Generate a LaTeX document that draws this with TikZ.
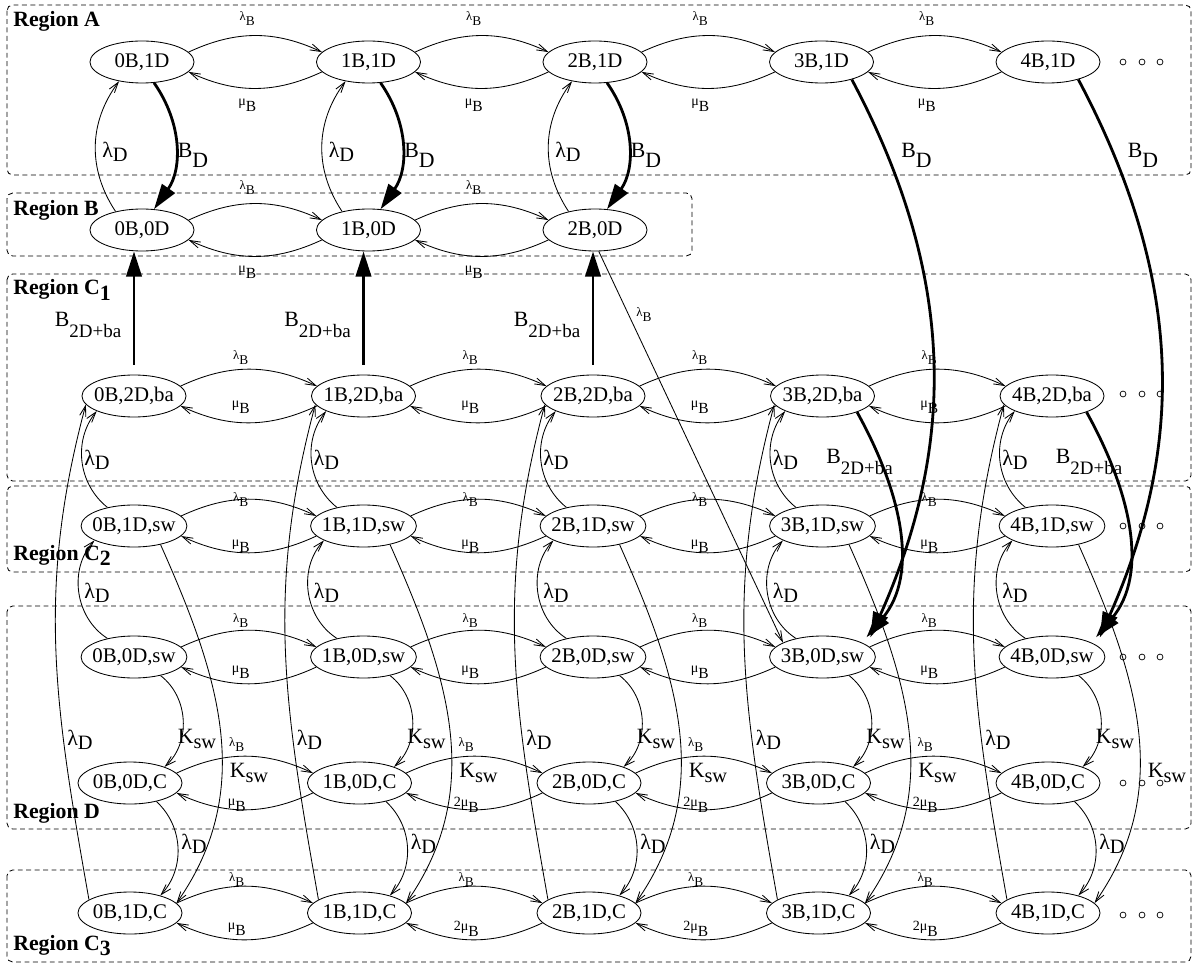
\documentclass[tikz,border=0pt]{standalone}
\usepackage{fontspec}
\setmainfont{Liberation Serif}
\usepackage{tikz}
\usetikzlibrary{shapes.geometric,arrows.meta,calc}

\newcommand{\lamB}{{\fontsize{9}{9}\selectfont λ}\raisebox{-3.5pt}{\fontsize{9.5}{9.5}\selectfont B}}
\newcommand{\muB}{{\fontsize{10}{10}\selectfont μ}\raisebox{-4.5pt}{\fontsize{11}{11}\selectfont B}}
\newcommand{\twomuB}{{\fontsize{10}{10}\selectfont 2μ}\raisebox{-4.5pt}{\fontsize{11}{11}\selectfont B}}
\newcommand{\lamD}{{\fontsize{15.5}{15.5}\selectfont λ}\raisebox{-3pt}{\fontsize{14.5}{14.5}\selectfont D}}
\newcommand{\BD}{{\fontsize{15.5}{15.5}\selectfont B}\raisebox{-7pt}{\fontsize{15.5}{15.5}\selectfont D}}
\newcommand{\Bba}{{\fontsize{15.5}{15.5}\selectfont B}\raisebox{-8pt}{\fontsize{13.5}{13.5}\selectfont 2D+ba}}
\newcommand{\Ksw}{{\fontsize{15.5}{15.5}\selectfont K}\raisebox{-4pt}{\fontsize{14.5}{14.5}\selectfont sw}}

\tikzset{
    state/.style={ellipse, draw, line width=0.6pt, minimum width=2.6cm, minimum height=1.05cm,
        inner xsep=-3pt, inner ysep=0pt, font=\fontsize{14.8}{14.8}\selectfont},
    rate/.style={line width=0.6pt, -{Straight Barb[length=7.5pt,width=4.5pt]}},
    burst/.style={line width=2pt, -{Triangle[length=18pt,width=11pt]}},
    region/.style={dash pattern=on 3.5pt off 2.5pt, line width=0.6pt, rounded corners=4pt},
    regname/.style={font=\fontsize{15.5}{15.5}\selectfont\bfseries, anchor=base west, inner sep=0pt},
    lbl/.style={inner sep=0pt}
}

\begin{document}
\begin{tikzpicture}[x=0.025cm, y=-0.025cm]

    \useasboundingbox (0,0) rectangle (1194,964);

    % Regions
    \draw[region] (7,5) rectangle (1191,175);
    \draw[region] (7,193) rectangle (692,256);
    \draw[region] (7,274) rectangle (1191,481);
    \draw[region] (7,486) rectangle (1191,572);
    \draw[region] (7,606) rectangle (1191,829);
    \draw[region] (7,870) rectangle (1191,962);

    \node[regname] (nameA) at (13,27) {Region A};
    \node[regname] (nameB) at (13,216) {Region B};
    \node[regname] (nameC1) at (13,295) {Region C\raisebox{-4pt}{1}};
    \node[regname] (nameC2) at (13,560) {Region C\raisebox{-4pt}{2}};
    \node[regname] (nameD) at (13,818) {Region D};
    \node[regname] (nameC3) at (13,950) {Region C\raisebox{-4pt}{3}};

    % States
    \foreach \col in {0,...,4} {
        \node[state] (A\col) at ({142+226.5*\col},62) {\col B,1D};
        \node[state] (Cone\col) at ({134+229.5*\col},396) {\col B,2D,ba};
        \node[state] (Ctwo\col) at ({134+229.5*\col},526) {\col B,1D,sw};
        \node[state] (Dsw\col) at ({134+229.5*\col},657) {\col B,0D,sw};
        \node[state] (DC\col) at ({130+229.5*\col},783) {\col B,0D,C};
        \node[state] (Cthree\col) at ({130+229.5*\col},913) {\col B,1D,C};
    }
    \foreach \col in {0,1,2}
        \node[state] (B\col) at ({142+226.5*\col},230) {\col B,0D};

    % More states
    \foreach \y in {62,394,526,657,783,915}
        \foreach \x in {1123,1142,1160}
            \draw[line width=0.5pt] (\x,\y) circle (2.1pt);

    % Arrivals and departures along each row
    \foreach \row/\last/\dl/\dm/\two in {A/3/-43/43/0, B/1/-42/42/0, Cone/3/-38/11/0,
            Ctwo/3/-26/20/0, Dsw/3/-36/15/0, DC/3/-38/22/1, Cthree/3/-33/16/1} {
        \foreach \col in {0,...,\last} {
            \pgfmathtruncatemacro{\nxt}{\col+1}
            \pgfmathtruncatemacro{\dbl}{\two*(\col>0)}
            \draw[rate] (\row\col.12) to[bend left=25] (\row\nxt.168);
            \draw[rate] (\row\nxt.-168) to[bend left=25] (\row\col.-12);
            \node[lbl] (lamB\row\col) at ($(\row\col)!0.5!(\row\nxt)+(-8,\dl)$) {\lamB};
            \node[lbl] (muB\row\col) at ($(\row\col)!0.5!(\row\nxt)+(-8,\dm)$)
                {\ifnum\dbl=1 \twomuB\else\muB\fi};
        }
    }

    % Region A <-> Region B
    \foreach \col in {0,1,2} {
        \draw[rate] (B\col.145) to[bend left=35] (A\col.-140);
        \draw[burst] (A\col.-60) to[bend left=35] (B\col.60);
        \draw[burst, shorten <=7pt] (Cone\col.north) -- (Cone\col.north |- B\col.south);
        \node[lbl] (lamDA\col) at ($(A\col)+(-27,90)$) {\lamD};
        \node[lbl] (BDA\col) at ($(A\col)+(51,93)$) {\BD};
        \node[lbl] (Bba\col) at ($(Cone\col)+(-46,-71)$) {\Bba};
    }

    % Region A, C1 -> Region D
    \foreach \col in {3,4} {
        \draw[burst, shorten >=6pt] (A\col.-30) to[out=-62, in=66] (Dsw\col.15);
        \draw[burst, shorten >=5pt] (Cone\col.-25) to[out=-61, in=50] (Dsw\col.20);
        \node[lbl] (BDA\col) at ($(A\col)+(95,93)$) {\BD};
        \node[lbl] (Bba\col) at ($(Cone\col)+(37,66)$) {\Bba};
    }
    \draw[rate] (B2.-80) -- (Dsw3.160);
    \node[lbl] (lamBlong) at (644,315) {\lamB};

    % Columns of regions C and D
    \foreach \col in {0,...,4} {
        \draw[rate] (Ctwo\col.145) to[bend left=45] (Cone\col.-158);
        \draw[rate] (Dsw\col.145) to[bend left=50] (Ctwo\col.-160);
        \draw[rate] (Dsw\col.-35) to[bend left=50] (DC\col.25);
        \draw[rate] (DC\col.-35) to[bend left=45] (Cthree\col.30);
        \draw[rate] (Cthree\col.162) to[out=100, in=-105] (Cone\col.-170);
        \draw[rate] (Ctwo\col.-35) to[out=-66, in=55] (Cthree\col.12);
        \node[lbl] (lamDC\col) at ($(Cone\col)+(-37,64)$) {\lamD};
        \node[lbl] (lamDS\col) at ($(Ctwo\col)+(-37,67)$) {\lamD};
        \node[lbl] (KswD\col) at ($(Dsw\col)+(63,82)$) {\Ksw};
        \node[lbl] (lamDD\col) at ($(DC\col)+(64,61)$) {\lamD};
        \node[lbl] (lamDL\col) at ($(Cthree\col)+(-50,-173)$) {\lamD};
        \node[lbl] (KswL\col) at ($(Ctwo\col)+(115,247)$) {\Ksw};
    }

\end{tikzpicture}
\end{document}
